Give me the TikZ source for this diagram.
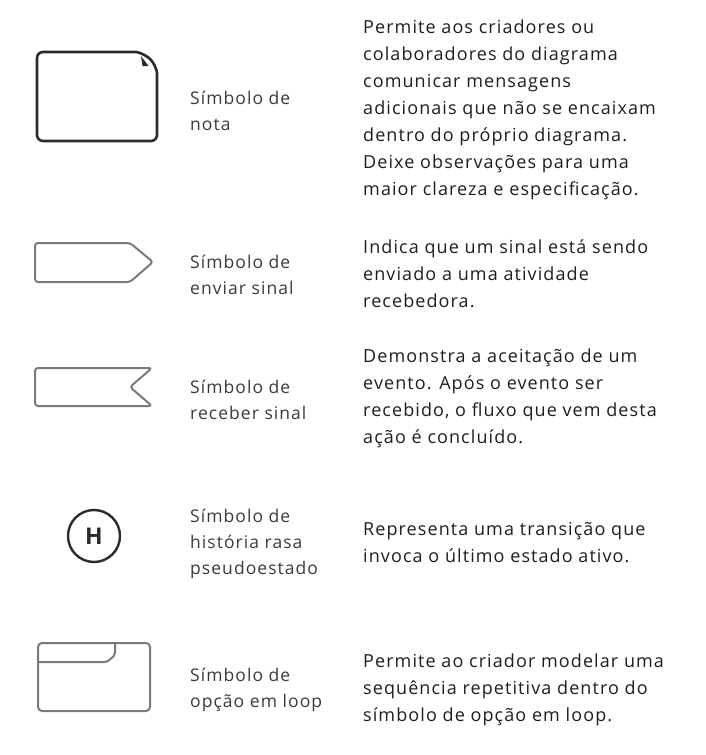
\documentclass[tikz,border=0pt]{standalone}
\usepackage{fontspec}
\setmainfont{Open Sans}[LetterSpace=6]
\newfontfamily\hfont{Open Sans}
\definecolor{notegray}{HTML}{2B2B2B}
\definecolor{symgray}{HTML}{7A7A7A}
\definecolor{lblgray}{HTML}{3A3A3A}
\definecolor{txtblack}{HTML}{1E1E1E}
\tikzset{
  notepen/.style={draw=notegray, line width=2.6pt, line join=round},
  sympen/.style={draw=symgray, line width=2pt, line join=round},
  symlabel/.style={anchor=west, align=left, inner sep=0pt, text=lblgray,
    font=\fontsize{17.5}{26}\selectfont},
  symdesc/.style={anchor=west, align=left, inner sep=0pt, text=txtblack,
    font=\fontsize{18}{27}\selectfont}
}
\begin{document}
\begin{tikzpicture}[x=1pt, y=-1pt]
\useasboundingbox (0,0) rectangle (706,755);
% simbolo de nota
\draw[notepen, rounded corners=6] (137,52) -- (37,52) -- (37,141) -- (157,141) -- (157,72);
\draw[notepen] (137,52) .. controls (150,56) and (154,62) .. (157,72);
\fill[notegray] (141,56) -- (148.5,66) -- (142.5,66) -- cycle;
\node[symlabel] (notelbl) at (190,111) {Símbolo de\\nota};
\node[symdesc] (notedesc) at (363,110) {Permite aos criadores ou\\colaboradores do diagrama\\comunicar mensagens\\adicionais que não se encaixam\\dentro do próprio diagrama.\\Deixe observações para uma\\maior clareza e especificação.};
% simbolo de enviar sinal
\draw[sympen, rounded corners=3] (35,243) -- (130,243) -- (153,262) -- (130,282) -- (35,282) -- cycle;
\node[symlabel] (sendlbl) at (190,275) {Símbolo de\\enviar sinal};
\node[symdesc] (senddesc) at (363,274) {Indica que um sinal está sendo\\enviado a uma atividade\\recebedora.};
% simbolo de receber sinal
\draw[sympen, rounded corners=3] (35,368) -- (152,368) -- (130,387) -- (152,406) -- (35,406) -- cycle;
\node[symlabel] (recvlbl) at (190,400) {Símbolo de\\receber sinal};
\node[symdesc] (recvdesc) at (363,398) {Demonstra a aceitação de um\\evento. Após o evento ser\\recebido, o fluxo que vem desta\\ação é concluído.};
% historia rasa
\node[circle, draw=notegray, line width=2.4pt, minimum size=52pt, inner sep=0pt,
  text=notegray, font=\hfont\fontsize{23}{23}\selectfont\bfseries] (histsym) at (94,536) {H};
\node[symlabel] (histlbl) at (190,544) {Símbolo de\\história rasa\\pseudoestado};
\node[symdesc] (histdesc) at (363,543) {Representa uma transição que\\invoca o último estado ativo.};
% opcao em loop
\draw[sympen, rounded corners=4] (38,643) rectangle (150,711);
\draw[sympen, rounded corners=2] (38,662) -- (107,662) -- (115,655) -- (115,643);
\node[symlabel] (looplbl) at (190,690) {Símbolo de\\opção em loop};
\node[symdesc] (loopdesc) at (363,690) {Permite ao criador modelar uma\\sequência repetitiva dentro do\\símbolo de opção em loop.};
\end{tikzpicture}
\end{document}
